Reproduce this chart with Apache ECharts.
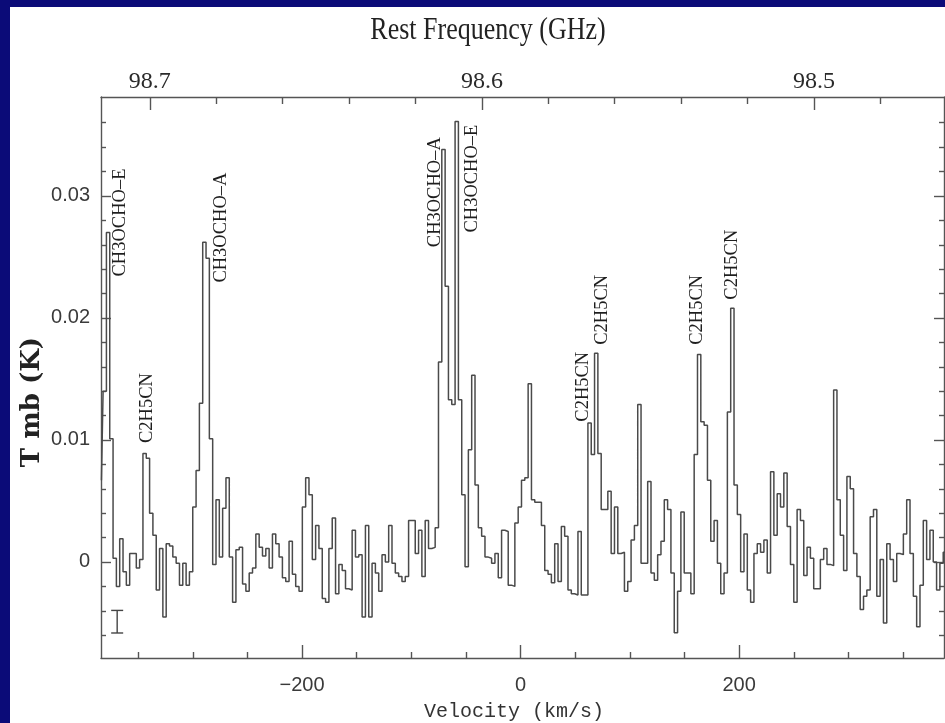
<!DOCTYPE html>
<html>
<head>
<meta charset="utf-8">
<script src="https://cdn.jsdelivr.net/npm/echarts@6/dist/echarts.min.js"></script>
<style>
html,body{margin:0;padding:0;background:#ffffff;}
#chart{width:945px;height:723px;}
</style>
</head>
<body>
<div id="chart"></div>
<script>
// ---------------- data ----------------
// channel grid (1 MHz channels ~ 3.039 km/s), first channel centre in km/s
const V0 = -383.6;
const DV = 3.039;
// main-beam temperature per channel, in mK
const tmb_mK = [
 6.7, 14, 27, 10.1, 0.3, -2.0, 1.9, -0.8, -1.9, 0.7,
 0.7, -0.5, 0.2, 8.9, 8.5, 4.0, 2.2, -2.3, 1.1, -4.5,
 1.5, 1.3, 0.4, -0.1, -1.9, -0.1, -1.9, -0.8, 4.5, 7.5,
 13, 26.2, 24.9, 10.1, -0.2, 5.1, 0.4, 4.4, 6.9, 0.4,
 -3.3, 1.0, 1.2, -1.8, -2.4, -0.9, -0.5, 2.3, 1.2, 0.5,
 1.1, -0.5, 2.3, 1.5, 0.4, -1.3, -1.6, 1.7, -1.0, -2.0,
 -2.4, 4.5, 6.9, 5.5, 0.2, 3.0, 1.1, -3.0, -3.3, 1.1,
 3.6, -2.6, -0.2, -0.7, -2.2, -2.3, 2.6, 0.4, 0.6, -4.5,
 3.0, -4.5, -0.1, -0.9, -2.4, 0.6, 0.0, 3.0, -0.1, -0.9,
 -1.2, -1.6, -1.2, 3.4, 3.4, 0.7, 2.6, -1.2, 3.4, 1.1,
 1.2, 2.8, 16.4, 33.8, 22.6, 13.3, 12.9, 36.1, 13.3, 5.5,
 -0.4, 9.2, 15.3, 6.3, 2.8, 2.1, 0.4, 0.3, -0.1, 0.7,
 -1.3, 2.6, 2.5, -1.9, -2.0, 3.2, 4.5, 6.7, 6.9, 14.6,
 5.1, 4.9, 4.9, 3.0, -0.7, -1.0, -1.7, 1.5, -1.6, 2.9,
 2.1, -2.3, -2.6, -2.7, 2.5, -2.7, -2.7, 11.4, 8.8, 17.1,
 8.9, 4.3, 4.3, 5.8, 0.7, 4.5, 0.7, 0.8, -2.4, -1.6,
 1.8, 3.0, 12.9, -0.1, -0.1, 6.6, -0.9, -1.5, 0.6, 1.7,
 5.1, 4.3, -0.9, -5.8, -2.4, 4.1, -0.9, -0.9, -2.6, 8.8,
 17.0, 11.5, 11.2, 6.7, 1.7, 3.4, -0.1, -2.6, -0.9, 12.3,
 20.8, 6.3, 3.9, -0.8, 2.3, -2.3, -3.3, 0.7, 1.5, 0.8,
 1.8, -0.9, 7.4, 2.2, 5.6, 4.5, 7.3, 2.9, -0.2, -3.3,
 4.3, 3.4, -1.1, 1.2, 0.3, -2.2, -2.2, 0.2, 1.1, -0.2,
 -0.3, 14.1, 5.1, 2.2, -0.7, 7.0, 6.0, 0.7, -1.2, -3.9,
 -2.8, -2.3, 3.7, 4.3, -2.8, 0.2, -5.0, 1.5, 0.2, -1.6,
 0.7, 0.6, 2.3, 5.1, 0.7, -2.8, -5.3, -1.9, 3.4, 0.2,
 2.6, 0.0, -2.3, -0.1, 0.8
];

// axis ranges
const xMin = -384, xMax = 387.5;           // km/s
const yMin = -7.87, yMax = 38.11;          // mK

// tick positions and labels
const velMajorTicks = [-200, 0, 200];
const velMinorTicks = [-350, -300, -250, -150, -100, -50, 50, 100, 150, 250, 300, 350];
const freqMajorTicks = [98.7, 98.6, 98.5];
const freqMajorLabels = ['98.7', '98.6', '98.5'];
const freqMinorTicks = [98.68, 98.66, 98.64, 98.62, 98.58, 98.56, 98.54, 98.52, 98.48];
const tmbMajorTicks = [0, 10, 20, 30];
const tmbMajorLabels = ['0', '0.01', '0.02', '0.03'];
const tmbMinorTicks = [-6, -4, -2, 2, 4, 6, 8, 12, 14, 16, 18, 22, 24, 26, 28, 32, 34, 36];

// rest frequency <-> velocity relation of the top axis
const F_REF = 98.6, V_REF = -35.4, KMS_PER_GHZ = 3039;
const f2v = f => V_REF + (F_REF - f) * KMS_PER_GHZ;

// line identifications
const lineNames = ['CH3OCHO–E', 'C2H5CN', 'CH3OCHO–A', 'CH3OCHO–A', 'CH3OCHO–E', 'C2H5CN', 'C2H5CN', 'C2H5CN', 'C2H5CN'];
const lineVel   = [-366.8, -342.2, -274.3, -78.4, -44.6, 57.0, 74.4, 161.4, 193.4];
const lineBase  = [23.4, 9.75, 22.9, 25.8, 27.0, 11.5, 17.8, 17.8, 21.5];

// rms error bar [velocity, low, high]
const errBar = [-369.2, -5.82, -3.97];

// ---------------- chart ----------------
const velocity = tmb_mK.map((_, i) => V0 + i * DV);
const specData = velocity.map((v, i) => [v, tmb_mK[i]]);

const AX = { color: '#555', width: 1.4 };
const sansLbl = { fontFamily: 'Liberation Sans', fontSize: 20, color: '#3a3a3a' };

function nearestLabel(value, ticks, labels, map) {
  let best = 0, bd = Infinity;
  ticks.forEach((t, i) => { const d = Math.abs(map(t) - value); if (d < bd) { bd = d; best = i; } });
  return labels[best];
}

const chart = echarts.init(document.getElementById('chart'), null, { renderer: 'canvas' });

const option = {
  animation: false,
  backgroundColor: '#ffffff',
  grid: { left: 101, top: 97, right: 1, bottom: 65 },
  xAxis: [
    { type: 'value', position: 'bottom', min: xMin, max: xMax,
      axisLine: { onZero: false, lineStyle: AX },
      axisTick: { inside: true, length: 13, customValues: velMajorTicks, lineStyle: AX },
      axisLabel: Object.assign({ customValues: velMajorTicks, margin: 17,
        formatter: v => String(v).replace('-', '−') }, sansLbl),
      splitLine: { show: false } },
    { type: 'value', position: 'bottom', min: xMin, max: xMax,
      axisLine: { onZero: false, show: false },
      axisTick: { inside: true, length: 6, customValues: velMinorTicks, lineStyle: AX },
      axisLabel: { show: false }, splitLine: { show: false } },
    { type: 'value', position: 'top', min: xMin, max: xMax,
      axisLine: { onZero: false, lineStyle: AX },
      axisTick: { inside: true, length: 13, customValues: freqMajorTicks.map(f2v), lineStyle: AX },
      axisLabel: { customValues: freqMajorTicks.map(f2v), margin: 3,
        fontFamily: 'Liberation Serif', fontSize: 24, color: '#2a2a2a',
        formatter: v => nearestLabel(v, freqMajorTicks, freqMajorLabels, f2v) },
      splitLine: { show: false } },
    { type: 'value', position: 'top', min: xMin, max: xMax,
      axisLine: { onZero: false, show: false },
      axisTick: { inside: true, length: 7, customValues: freqMinorTicks.map(f2v), lineStyle: AX },
      axisLabel: { show: false }, splitLine: { show: false } }
  ],
  yAxis: [
    { type: 'value', position: 'left', min: yMin, max: yMax,
      axisLine: { onZero: false, show: true, lineStyle: AX },
      axisTick: { show: true, inside: true, length: 10, customValues: tmbMajorTicks, lineStyle: AX },
      axisLabel: Object.assign({ customValues: tmbMajorTicks, margin: 11,
        formatter: v => nearestLabel(v, tmbMajorTicks, tmbMajorLabels, t => t) }, sansLbl),
      splitLine: { show: false } },
    { type: 'value', position: 'left', min: yMin, max: yMax,
      axisLine: { onZero: false, show: false },
      axisTick: { show: true, inside: true, length: 5, customValues: tmbMinorTicks, lineStyle: AX },
      axisLabel: { show: false }, splitLine: { show: false } },
    { type: 'value', position: 'right', min: yMin, max: yMax,
      axisLine: { onZero: false, show: true, lineStyle: AX },
      axisTick: { show: true, inside: true, length: 10, customValues: tmbMajorTicks, lineStyle: AX },
      axisLabel: { show: false }, splitLine: { show: false } },
    { type: 'value', position: 'right', min: yMin, max: yMax,
      axisLine: { onZero: false, show: false },
      axisTick: { show: true, inside: true, length: 5, customValues: tmbMinorTicks, lineStyle: AX },
      axisLabel: { show: false }, splitLine: { show: false } }
  ],
  series: [
    { type: 'line', xAxisIndex: 0, yAxisIndex: 0, data: specData, step: 'middle',
      symbol: 'none', showSymbol: false, clip: true,
      lineStyle: { color: '#4a4a4a', width: 1.5 } },
    { type: 'custom', xAxisIndex: 0, yAxisIndex: 0, clip: false,
      data: lineVel.map((v, i) => [v, lineBase[i]]),
      renderItem: (params, api) => {
        const p = api.coord([api.value(0), api.value(1)]);
        return { type: 'text', x: p[0], y: p[1], rotation: Math.PI / 2,
          style: { text: lineNames[params.dataIndex], fontFamily: 'Liberation Serif',
            fontSize: 18.5, fill: '#1e1e1e', align: 'left', verticalAlign: 'middle' } };
      } },
    { type: 'custom', xAxisIndex: 0, yAxisIndex: 0, clip: false,
      data: [errBar],
      renderItem: (params, api) => {
        const lo = api.coord([api.value(0), api.value(1)]);
        const hi = api.coord([api.value(0), api.value(2)]);
        const half = 6;
        const st = { stroke: '#444', lineWidth: 1.4 };
        return { type: 'group', children: [
          { type: 'line', shape: { x1: lo[0], y1: lo[1], x2: hi[0], y2: hi[1] }, style: st },
          { type: 'line', shape: { x1: lo[0] - half, y1: lo[1], x2: lo[0] + half, y2: lo[1] }, style: st },
          { type: 'line', shape: { x1: hi[0] - half, y1: hi[1], x2: hi[0] + half, y2: hi[1] }, style: st }
        ] };
      } }
  ],
  graphic: [
    { type: 'rect', left: 0, top: 0, shape: { width: 10, height: 723 }, style: { fill: '#0b0b78' }, z: 100 },
    { type: 'rect', left: 0, top: 0, shape: { width: 945, height: 7 }, style: { fill: '#0b0b78' }, z: 100 },
    { type: 'text', x: 488, y: 31, scaleY: 1.2,
      style: { text: 'Rest Frequency (GHz)', fontFamily: 'Liberation Serif', fontSize: 26,
        fill: '#222', align: 'center', verticalAlign: 'middle' } },
    { type: 'text', x: 514, y: 712,
      style: { text: 'Velocity (km/s)', fontFamily: 'Liberation Mono', fontSize: 20,
        fill: '#333', align: 'center', verticalAlign: 'middle' } },
    { type: 'text', x: 32, y: 402, rotation: Math.PI / 2,
      style: { text: 'T mb (K)', fontFamily: 'DejaVu Serif', fontWeight: 'bold', fontSize: 26,
        fill: '#222', align: 'center', verticalAlign: 'middle' } }
  ]
};
chart.setOption(option);
</script>
</body>
</html>
